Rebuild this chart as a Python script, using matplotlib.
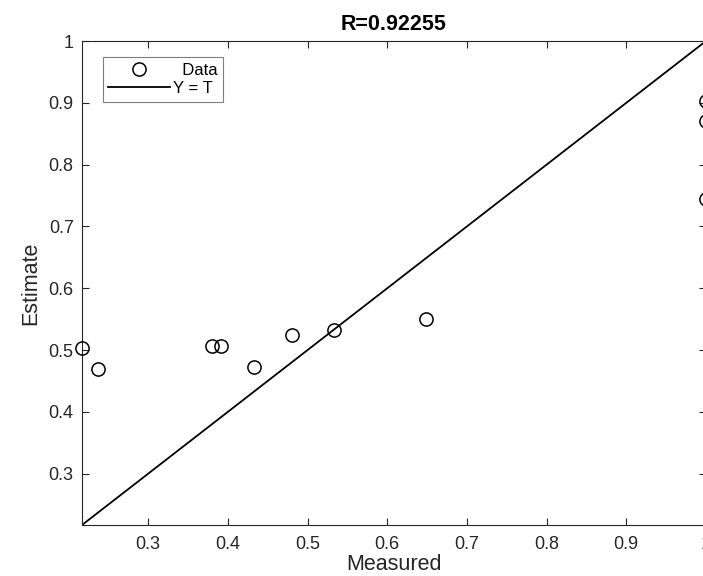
import numpy as np
import matplotlib
matplotlib.use("Agg")
import matplotlib.pyplot as plt

# regression scatter: network estimate against measured target
measured = [0.217, 0.237, 0.380, 0.391, 0.433, 0.481, 0.533, 0.649, 1.0, 1.0, 1.0]
estimate = [0.504, 0.470, 0.506, 0.506, 0.472, 0.524, 0.533, 0.551, 0.903, 0.870, 0.744]
r_value = 0.92255

ticks = [0.3, 0.4, 0.5, 0.6, 0.7, 0.8, 0.9, 1.0]
tick_labels = ["0.3", "0.4", "0.5", "0.6", "0.7", "0.8", "0.9", "1"]

plt.rcParams['font.family'] = ['Liberation Sans', 'DejaVu Sans']
ax_color = '#262626'

fig = plt.figure(figsize=(7.03, 5.76), dpi=100)
# axes box runs a few pixels past the right edge of the canvas
ax = fig.add_axes([82 / 703, 51 / 576, 624 / 703, 484 / 576])

lo = min(min(measured), min(estimate))
hi = max(max(measured), max(estimate))

ax.plot(measured, estimate, 'o', mfc='none', mec='black', ms=9.5, mew=1.1,
        clip_on=False, label='  Data', zorder=3)
ax.plot([lo, hi], [lo, hi], '-', color='black', lw=1.3, label='Y = T ')

ax.set_xlim(lo, hi)
ax.set_ylim(lo, hi)
ax.set_xticks(ticks)
ax.set_xticklabels(tick_labels)
ax.set_yticks(ticks)
ax.set_yticklabels(tick_labels)

ax.tick_params(direction='in', length=5, width=0.8, color=ax_color,
               labelcolor=ax_color, labelsize=13, top=True, right=True)
ax.tick_params(axis='x', pad=8)
ax.tick_params(axis='y', pad=6)
for sp in ax.spines.values():
    sp.set_color(ax_color)
    sp.set_linewidth(0.8)

ax.set_xlabel('Measured', fontsize=15.5, color=ax_color, labelpad=1)
ax.set_ylabel('Estimate', fontsize=15.5, color=ax_color, labelpad=5)
ax.set_title(f'R={r_value:.5f}', fontsize=15.5, fontweight='bold', pad=8)

leg = ax.legend(loc='upper left', bbox_to_anchor=(0.033, 0.967), fontsize=12,
                fancybox=False, framealpha=1, edgecolor='#7f7f7f',
                borderaxespad=0, handlelength=3.7, handletextpad=0.15,
                borderpad=0.35, labelspacing=0.2)
leg.get_frame().set_linewidth(0.8)

fig.savefig('out.png', dpi=100)
